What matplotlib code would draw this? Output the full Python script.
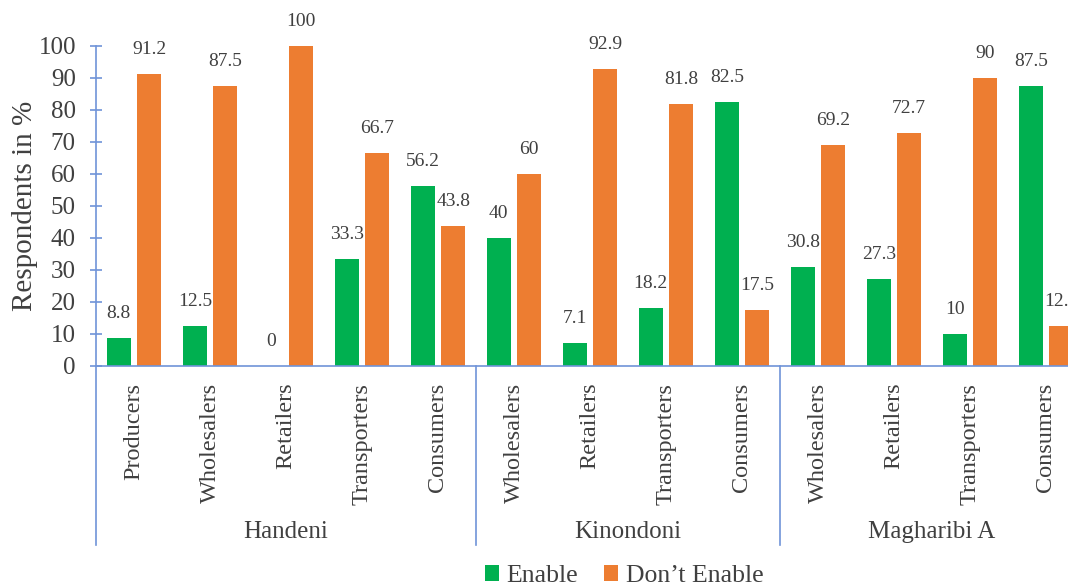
import matplotlib
matplotlib.use("Agg")
import matplotlib.pyplot as plt
import matplotlib.transforms as mtransforms
import numpy as np

groups = ["Handeni", "Kinondoni", "Magharibi A"]
group_sizes = [5, 4, 4]
actors = [
    "Producers", "Wholesalers", "Retailers", "Transporters", "Consumers",
    "Wholesalers", "Retailers", "Transporters", "Consumers",
    "Wholesalers", "Retailers", "Transporters", "Consumers",
]
enable = [8.8, 12.5, 0, 33.3, 56.2, 40, 7.1, 18.2, 82.5, 30.8, 27.3, 10, 87.5]
dont_enable = [91.2, 87.5, 100, 66.7, 43.8, 60, 92.9, 81.8, 17.5, 69.2, 72.7, 90, 12.5]

plt.rcParams["font.family"] = ["Liberation Serif", "DejaVu Serif"]
text_color = "#404040"
axis_color = "#7094d8"
green = "#00B050"
orange = "#ED7D31"

fig = plt.figure(figsize=(10.68, 5.85), dpi=100)
ax = fig.add_axes([96 / 1068, 1 - 366 / 585, (1084 - 96) / 1068, 320 / 585])

x = np.arange(len(actors))
w = 0.31
b1 = ax.bar(x - 0.2, enable, w, color=green, label="Enable")
b2 = ax.bar(x + 0.2, dont_enable, w, color=orange, label="Don\u2019t Enable")

for bars, vals in ((b1, enable), (b2, dont_enable)):
    for rect, v in zip(bars, vals):
        ax.text(rect.get_x() + rect.get_width() / 2, v + 5, f"{v:g}",
                ha="center", va="bottom", fontsize=14, color=text_color,
                clip_on=False)

ax.set_xlim(-0.5, len(actors) - 0.5)
ax.set_ylim(0, 100)
ax.set_yticks(np.arange(0, 101, 10))
ax.set_xticks(x)
ax.set_xticklabels(actors, rotation=90, fontsize=17.5, color=text_color, va="top")
ax.tick_params(axis="x", length=0, pad=12)
ax.tick_params(axis="y", direction="inout", length=9, width=1.2,
               color=axis_color, labelsize=18, labelcolor=text_color, pad=10)
ax.set_ylabel("Respondents in %", fontsize=21, color=text_color, labelpad=0)

for side in ("top", "right"):
    ax.spines[side].set_visible(False)
for side in ("left", "bottom"):
    ax.spines[side].set_color(axis_color)
    ax.spines[side].set_linewidth(1.2)

# group separators and group names below the category labels
trans = mtransforms.blended_transform_factory(ax.transData, ax.transAxes)
edges = np.concatenate([[0], np.cumsum(group_sizes)]) - 0.5
for e in edges[:-1]:
    ax.plot([e, e], [0, -0.56], transform=trans, color=axis_color,
            linewidth=1.2, clip_on=False)
for name, lo, hi in zip(groups, edges[:-1], edges[1:]):
    ax.text((lo + hi) / 2, -0.52, name, transform=trans, ha="center",
            va="center", fontsize=18, color=text_color)

fig.legend(handles=[b1, b2], loc="center", bbox_to_anchor=(624 / 1068, 1 - 576 / 585),
           ncol=2, frameon=False, fontsize=18.5, labelcolor=text_color,
           handlelength=0.55, handleheight=0.55, handletextpad=0.3, columnspacing=1.0)

fig.savefig("out.png", dpi=100)
